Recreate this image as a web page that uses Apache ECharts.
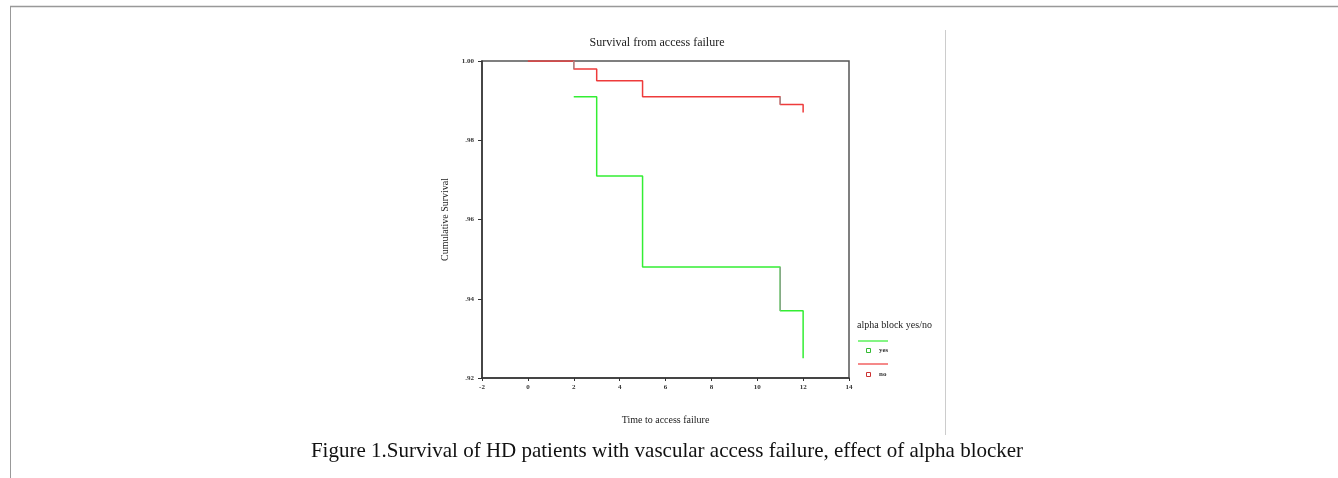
<!DOCTYPE html>
<html>
<head>
<meta charset="utf-8">
<script src="https://cdn.jsdelivr.net/npm/echarts@6/dist/echarts.min.js"></script>
<style>
html,body{margin:0;padding:0;background:#fff;}
#chart{width:1338px;height:478px;}
</style>
</head>
<body>
<div id="chart"></div>
<script>
// Data
const xTicks = [-2, 0, 2, 4, 6, 8, 10, 12, 14];
const yTicks = [0.92, 0.94, 0.96, 0.98, 1.00];
const groups = ['yes', 'no'];
// Kaplan-Meier step points (time, cumulative survival)
const yesTimes = [2, 3, 3, 5, 5, 11, 11, 12, 12];
const yesSurv  = [0.991, 0.991, 0.971, 0.971, 0.948, 0.948, 0.937, 0.937, 0.925];
const noTimes  = [0, 2, 2, 3, 3, 5, 5, 11, 11, 12, 12];
const noSurv   = [1.000, 1.000, 0.998, 0.998, 0.995, 0.995, 0.991, 0.991, 0.989, 0.989, 0.987];
// segments drawn in grey in the original picture
const greySegTimes = [[2, 2], [11, 11], [11, 11]];
const greySegSurv  = [[1.000, 0.998], [0.991, 0.989], [0.948, 0.937]];

const chart = echarts.init(document.getElementById('chart'));
const serif = 'Liberation Serif';
const zip = (a, b) => a.map((v, i) => [v, b[i]]);

const series = [
  { name: groups[0], type: 'line', data: zip(yesTimes, yesSurv), showSymbol: false,
    lineStyle: { color: '#33ee33', width: 1.5 }, z: 3, animation: false },
  { name: groups[1], type: 'line', data: zip(noTimes, noSurv), showSymbol: false,
    lineStyle: { color: '#ee3b3b', width: 1.5 }, z: 3, animation: false }
];
greySegTimes.forEach((t, i) => {
  series.push({ type: 'line', data: zip(t, greySegSurv[i]), showSymbol: false,
    lineStyle: { color: '#999', width: 1.2 }, z: 4, animation: false });
});

chart.setOption({
  animation: false,
  title: {
    text: 'Survival from access failure', left: 652, top: 32, textAlign: 'center',
    textStyle: { fontFamily: serif, fontSize: 12, fontWeight: 'normal', color: '#222' }
  },
  grid: { left: 482, top: 61, width: 367, height: 317, show: true, borderColor: '#555', borderWidth: 1.5, backgroundColor: 'transparent' },
  xAxis: {
    type: 'value', min: -2, max: 14, interval: 2,
    name: 'Time to access failure', nameLocation: 'middle', nameGap: 37,
    nameTextStyle: { fontFamily: serif, fontSize: 10, color: '#222' },
    axisLine: { onZero: false, lineStyle: { color: '#333', width: 1.5 } },
    axisTick: { length: 3, lineStyle: { color: '#333' } },
    axisLabel: { fontFamily: serif, fontSize: 7, fontWeight: 'bold', color: '#333', margin: 6 },
    splitLine: { show: false }
  },
  yAxis: {
    type: 'value', min: 0.92, max: 1.00, interval: 0.02,
    name: 'Cumulative Survival', nameLocation: 'middle', nameGap: 32,
    nameTextStyle: { fontFamily: serif, fontSize: 10, color: '#222' },
    axisLine: { show: true, onZero: false, lineStyle: { color: '#333', width: 1.5 } },
    axisTick: { show: true, length: 4, lineStyle: { color: '#333' } },
    axisLabel: {
      fontFamily: serif, fontSize: 7, fontWeight: 'bold', color: '#333', margin: 8,
      formatter: v => { const s = Number(v).toFixed(2); return s.startsWith('0') ? s.slice(1) : s; }
    },
    splitLine: { show: false }
  },
  series: series,
  graphic: [
    // page frame
    { type: 'line', shape: { x1: 10, y1: 6.5, x2: 1338, y2: 6.5 }, style: { stroke: '#999', lineWidth: 1.5 } },
    { type: 'line', shape: { x1: 10.5, y1: 6, x2: 10.5, y2: 478 }, style: { stroke: '#999', lineWidth: 1 } },
    { type: 'line', shape: { x1: 945.5, y1: 30, x2: 945.5, y2: 435 }, style: { stroke: '#ccc', lineWidth: 1 } },
    // legend
    { type: 'text', left: 857, top: 320, style: { text: 'alpha block yes/no', font: '10px "Liberation Serif"', fill: '#222' } },
    { type: 'line', shape: { x1: 858, y1: 341, x2: 888, y2: 341 }, style: { stroke: '#33ee33', lineWidth: 1.2 } },
    { type: 'rect', shape: { x: 866.5, y: 348.5, width: 4, height: 4 }, style: { stroke: '#33bb33', fill: 'none', lineWidth: 1 } },
    { type: 'text', left: 879, top: 347, style: { text: groups[0], font: 'bold 7px "Liberation Serif"', fill: '#333' } },
    { type: 'line', shape: { x1: 858, y1: 364, x2: 888, y2: 364 }, style: { stroke: '#ee3b3b', lineWidth: 1.2 } },
    { type: 'rect', shape: { x: 866.5, y: 372.5, width: 4, height: 4 }, style: { stroke: '#cc3333', fill: 'none', lineWidth: 1 } },
    { type: 'text', left: 879, top: 371, style: { text: groups[1], font: 'bold 7px "Liberation Serif"', fill: '#333' } },
    // caption
    { type: 'text', x: 667, y: 451, style: { text: 'Figure 1.Survival of HD patients with vascular access failure, effect of alpha blocker',
      font: '21px "Liberation Serif"', fill: '#111', align: 'center', verticalAlign: 'middle' } }
  ]
});
</script>
</body>
</html>
